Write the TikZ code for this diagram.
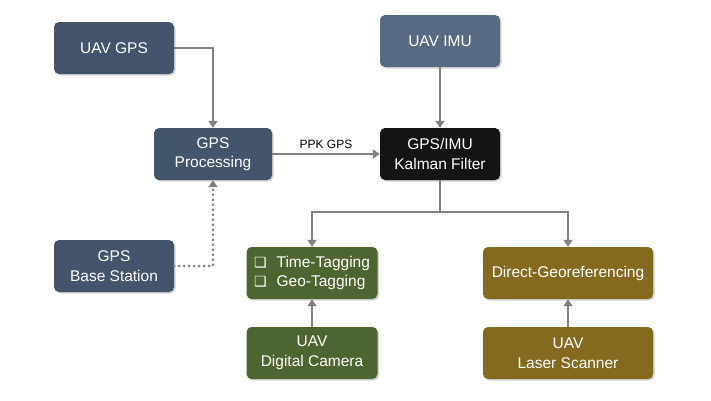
\documentclass[tikz,border=0pt]{standalone}
\usepackage{fontspec}
\setmainfont{Liberation Sans}
\newfontfamily\symfont{DejaVu Sans}
\usetikzlibrary{arrows.meta,shadows}
\definecolor{slateB}{HTML}{44546A}
\definecolor{slateL}{HTML}{586A82}
\definecolor{kalmanK}{HTML}{141414}
\definecolor{camG}{HTML}{4D6530}
\definecolor{laserO}{HTML}{846A1E}
\definecolor{wireG}{HTML}{808080}

\begin{document}
\begin{tikzpicture}[
  x=1pt, y=-1pt,
  box/.style={rectangle, rounded corners=5pt, minimum width=120pt, minimum height=52pt, inner sep=2pt,
    align=center, text=white, font=\fontsize{15.5}{19.5}\selectfont,
    drop shadow={shadow xshift=1.5pt, shadow yshift=-1.5pt, opacity=0.35}},
  wire/.style={wireG, line width=2.5pt, -{Triangle[length=7pt,width=9pt]}}
]
\useasboundingbox (0,0) rectangle (711,400);

% GPS side
\node[box, fill=slateB] (ugps) at (114,48) {UAV GPS};
\node[box, fill=slateB, minimum width=118pt] (proc) at (213,154) {GPS\\Processing};
\node[box, fill=slateB] (base) at (114,266) {GPS\\Base Station};

% IMU side
\node[box, fill=slateL] (imu) at (440,41) {UAV IMU};
\node[box, fill=kalmanK] (kf) at (440,154) {GPS/IMU\\Kalman Filter};

% Camera
\node[box, fill=camG, minimum width=131pt, align=left] (tag) at (312,273)
  {{\symfont\fontsize{14}{15}\selectfont ❑}\hspace{10pt}Time-Tagging\\{\symfont\fontsize{14}{15}\selectfont ❑}\hspace{10pt}Geo-Tagging};
\node[box, fill=camG, minimum width=131pt] (cam) at (312,353) {UAV\\Digital Camera};

% Laser
\node[box, fill=laserO, minimum width=170pt] (geo) at (568,273) {Direct-Georeferencing};
\node[box, fill=laserO, minimum width=170pt] (lsr) at (568,353) {UAV\\Laser Scanner};

% Connectors
\draw[wire] (ugps.east) -| (proc.north);
\draw[wire] (proc.east) -- node[above, black, font=\fontsize{12}{14}\selectfont, yshift=1pt] {PPK GPS} (kf.west);
\draw[wire] (imu.south) -- (kf.north);
\draw[wire, line width=3pt, line cap=round, dash pattern=on 0pt off 5pt] (base.east) -| (proc.south);
\coordinate (split) at (440,212);
\draw[wireG, line width=2.5pt] (kf.south) -- (split);
\draw[wire] (split) -| (tag.north);
\draw[wire] (split) -| (geo.north);
\draw[wire] (cam.north) -- (tag.south);
\draw[wire] (lsr.north) -- (geo.south);
\end{tikzpicture}
\end{document}
